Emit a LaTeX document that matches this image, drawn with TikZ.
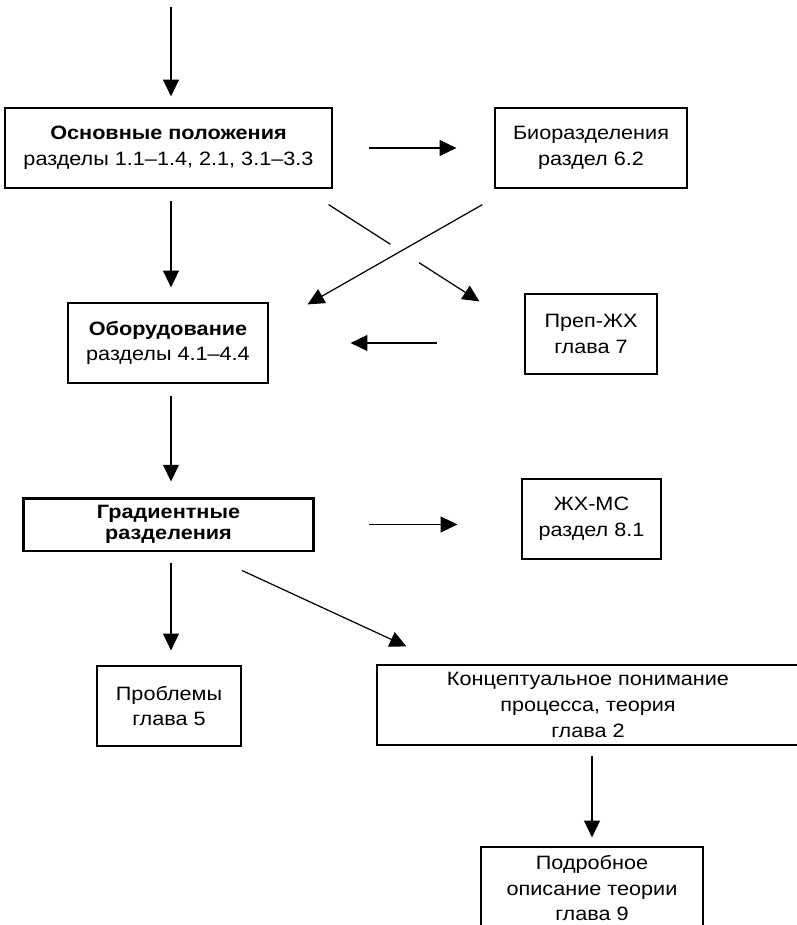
\documentclass[tikz,border=0pt]{standalone}
\usepackage{fontspec}
\setmainfont{Liberation Sans}[FakeStretch=1.12]
\usetikzlibrary{arrows.meta, positioning, calc}

\begin{document}
\begin{tikzpicture}[x=0.02cm, y=-0.02cm,
    box/.style={draw, line width=0.7pt, align=center, inner sep=0pt,
        font=\fontsize{11pt}{14.7pt}\selectfont},
    arr/.style={-{Triangle[length=9.5pt,width=9pt]}, line width=0.7pt}]
    \useasboundingbox (0,0) rectangle (796,925);

    % boxes
    \node[box, minimum width=6.54cm, minimum height=1.6cm] (osn) at (168.5,148)
        {\textbf{Основные положения}\\разделы 1.1–1.4, 2.1, 3.1–3.3};
    \node[box, minimum width=3.84cm, minimum height=1.6cm] (bio) at (591,148)
        {Биоразделения\\раздел 6.2};
    \node[box, minimum width=4cm, minimum height=1.6cm] (obor) at (168,343)
        {\textbf{Оборудование}\\разделы 4.1–4.4};
    \node[box, minimum width=2.64cm, minimum height=1.6cm] (prep) at (591,334)
        {Преп-ЖХ\\глава 7};
    \node[box, line width=1.7pt, minimum width=5.82cm, minimum height=1.06cm,
        font=\fontsize{11pt}{12pt}\selectfont\bfseries] (grad) at (168.5,524.5)
        {Градиентные\\разделения};
    \node[box, minimum width=2.78cm, minimum height=1.6cm] (lcms) at (591.5,519)
        {ЖХ-МС\\раздел 8.1};
    \node[box, minimum width=2.88cm, minimum height=1.6cm] (probl) at (169,706)
        {Проблемы\\глава 5};
    \node[box, minimum width=8.44cm, minimum height=1.6cm] (konc) at (588,705)
        {Концептуальное понимание\\процесса, теория\\глава 2};
    \node[box, minimum width=4.44cm, minimum height=1.64cm] (podr) at (592,888)
        {Подробное\\описание теории\\глава 9};

    % arrows
    \coordinate (entry) at (171,7);
    \draw[arr, shorten >=0.22cm] (entry) -- (entry |- osn.north);
    \draw[arr, shorten <=0.72cm, shorten >=0.76cm] (osn.east) -- (bio.west);
    \draw[arr, shorten <=0.24cm, shorten >=0.3cm] (osn.south -| entry) -- (obor.north -| entry);

    \coordinate (c1s) at ([shift={(-4,16)}]osn.south east);
    \coordinate (c1e) at ([shift={(-45,8)}]prep.north west);
    \draw[line width=0.7pt] (c1s) -- ($(c1s)!0.41!(c1e)$);
    \draw[arr] ($(c1s)!0.6!(c1e)$) -- (c1e);
    \coordinate (c2s) at ([shift={(-12,16)}]bio.south west);
    \coordinate (c2e) at ([shift={(39,2)}]obor.north east);
    \draw[arr] (c2s) -- (c2e);

    \draw[arr, shorten <=1.74cm, shorten >=1.64cm] (prep.west |- obor.east) -- (obor.east);
    \draw[arr, shorten <=0.24cm, shorten >=0.3cm] (obor.south -| entry) -- (grad.north -| entry);
    \draw[arr, shorten <=1.08cm, shorten >=1.28cm] (grad.east) -- (grad.east -| lcms.west);
    \draw[arr, shorten <=0.22cm, shorten >=0.3cm] (grad.south -| entry) -- (probl.north -| entry);

    \coordinate (c3s) at ([shift={(73.5,18)}]grad.south);
    \coordinate (c3e) at ([shift={(30,-18)}]konc.north west);
    \draw[arr] (c3s) -- (c3e);
    \draw[arr, shorten <=0.2cm, shorten >=0.18cm] (konc.south -| podr.north) -- (podr.north);
\end{tikzpicture}
\end{document}
